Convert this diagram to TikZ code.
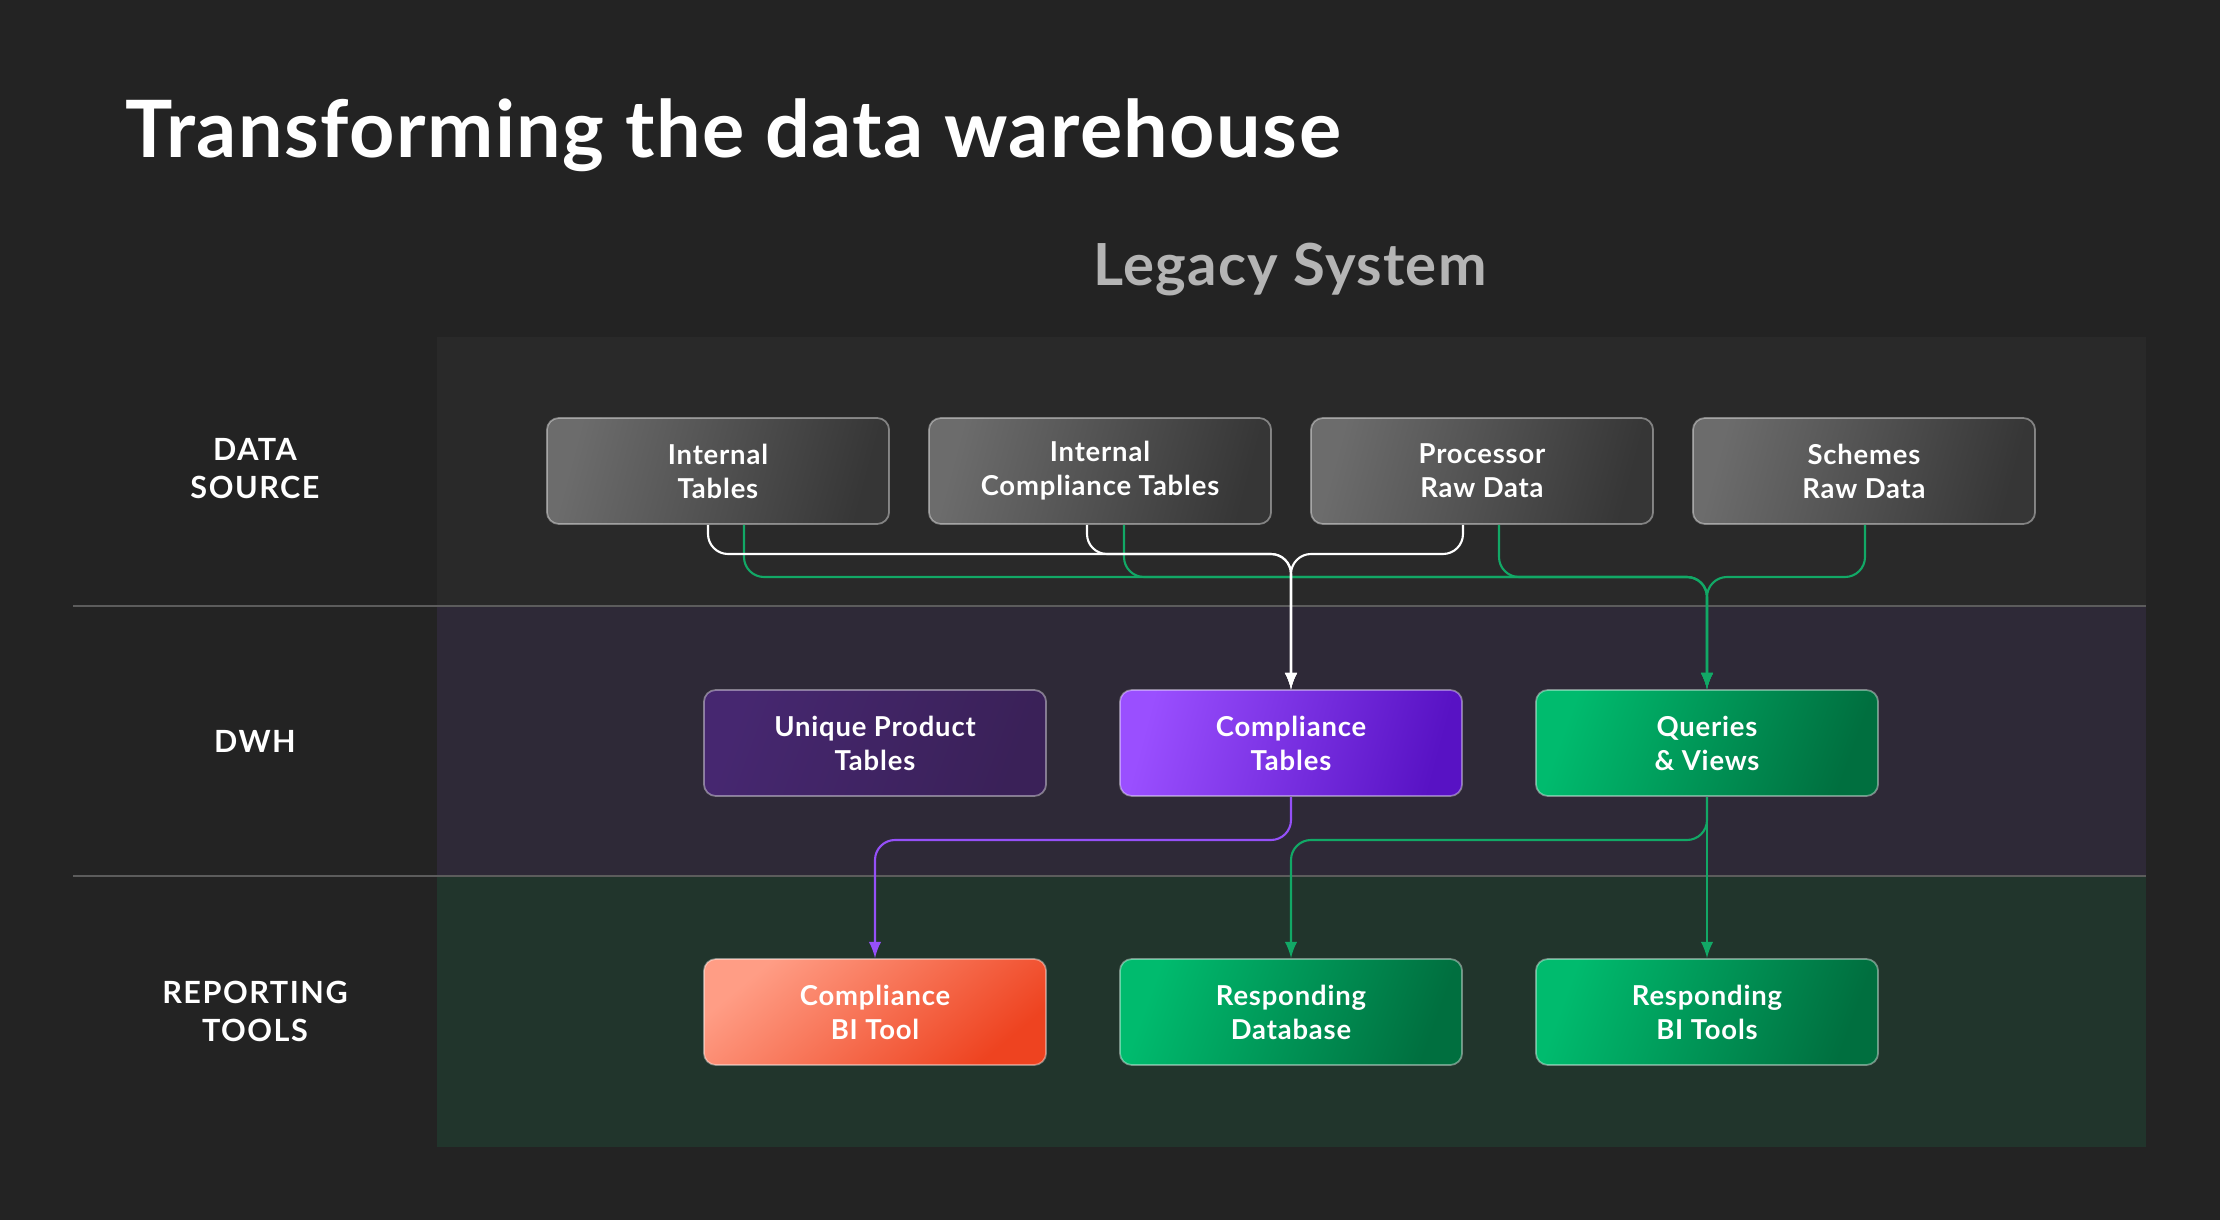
\documentclass[tikz,border=0pt]{standalone}
\usepackage{fontspec}
\setmainfont{Lato}
\newfontfamily\rowfont[LetterSpace=5]{Lato}
\newfontfamily\boxfont[LetterSpace=3]{Lato}
\newfontfamily\titlefont[LetterSpace=1.8]{Lato}
\newfontfamily\headfont[LetterSpace=2.2]{Lato}
\usetikzlibrary{shapes}
\usetikzlibrary{positioning}
\usetikzlibrary{calc}
\usepackage{xcolor}

\definecolor{bgdark}{HTML}{232323}
\definecolor{bandsrc}{HTML}{292929}
\definecolor{banddwh}{HTML}{2E2937}
\definecolor{bandrep}{HTML}{21352C}
\definecolor{divline}{HTML}{5C5C5C}
\definecolor{legacygray}{HTML}{B4B4B4}
\definecolor{wiregreen}{HTML}{12A866}
\definecolor{wirepurple}{HTML}{9550F8}
\definecolor{srcleft}{HTML}{6C6C6C}
\definecolor{srcright}{HTML}{363636}

\tikzset{
  tablebox/.style={
    rounded corners=0.12cm, minimum width=3.42cm, minimum height=1.06cm,
    draw=white, draw opacity=0.4, line width=0.5pt, align=center, text=white,
    font=\boxfont\bfseries\fontsize{7.8}{9.7}\selectfont,
  },
  srcbox/.style={left color=srcleft, right color=srcright, shading angle=75},
  uniqbox/.style={left color={rgb,255:red,70;green,39;blue,112}, right color={rgb,255:red,58;green,33;blue,88}, shading angle=70},
  compbox/.style={left color={rgb,255:red,154;green,79;blue,255}, right color={rgb,255:red,88;green,18;blue,196}, shading angle=75},
  greenbox/.style={left color={rgb,255:red,0;green,187;blue,110}, right color={rgb,255:red,0;green,111;blue,63}, shading angle=70},
  orangebox/.style={left color={rgb,255:red,255;green,157;blue,133}, right color={rgb,255:red,238;green,67;blue,32}, shading angle=40},
  rowlabel/.style={text=white, align=center, font=\rowfont\bfseries\fontsize{8.7}{10.8}\selectfont},
  wire/.style={line width=0.6pt, rounded corners=0.2cm, ->, >=latex},
}

\begin{document}
\begin{tikzpicture}[x=0.01cm, y=0.01cm]

  \fill[bgdark] (0,0) rectangle (2220,1220);
  \useasboundingbox (0,0) rectangle (2220,1220);

  % bands
  \fill[bandsrc] (437,614) rectangle (2146,883);
  \fill[banddwh] (437,344) rectangle (2146,614);
  \fill[bandrep] (437,73) rectangle (2146,344);
  \draw[divline, line width=0.5pt] (73,614) -- (2146,614);
  \draw[divline, line width=0.5pt] (73,344) -- (2146,344);

  \node[anchor=base west, inner sep=0pt, text=white, font=\titlefont\bfseries\fontsize{22.5}{27}\selectfont] (title) at (125,1062) {Transforming the data warehouse};
  \node[anchor=base, text=legacygray, font=\headfont\bfseries\fontsize{16.5}{20}\selectfont] (legacy) at (1290,934) {Legacy System};

  \node[rowlabel] (lsrc) at (255,751) {DATA\\SOURCE};
  \node[rowlabel] (ldwh) at (255,479) {DWH};
  \node[rowlabel] (lrep) at (255,209) {REPORTING\\TOOLS};

  \foreach \n/\x/\t in {it/718/{Internal\\Tables}, ict/1100/{Internal\\Compliance Tables}, prd/1482/{Processor\\Raw Data}, srd/1864/{Schemes\\Raw Data}}
    \node[tablebox, srcbox] (\n) at (\x,749) {\t};

  \node[tablebox, uniqbox] (upt) at (875,477) {Unique Product\\Tables};
  \node[tablebox, compbox] (ctb) at (1291,477) {Compliance\\Tables};
  \node[tablebox, greenbox] (qv) at (1707,477) {Queries\\\& Views};

  \node[tablebox, orangebox] (cbi) at (875,208) {Compliance\\BI Tool};
  \node[tablebox, greenbox] (rdb) at (1291,208) {Responding\\Database};
  \node[tablebox, greenbox] (rbi) at (1707,208) {Responding\\BI Tools};

  \coordinate (gj) at (1707,643);
  \coordinate (wj) at (1291,666);
  \coordinate (pj) at (875,380);
  \coordinate (qj) at (1291,380);

  \draw[wire, wiregreen] ($(it.south)+(26,0)$) |- (gj) -- (qv.north);
  \draw[wire, wiregreen] ($(ict.south)+(24,0)$) |- (gj) -- (qv.north);
  \draw[wire, wiregreen] ($(prd.south)+(17,0)$) |- (gj) -- (qv.north);
  \draw[wire, wiregreen] ($(srd.south)+(1,0)$) |- (gj) -- (qv.north);

  \draw[wire, white] ($(it.south)+(-10,0)$) |- (wj) -- (ctb.north);
  \draw[wire, white] ($(ict.south)+(-13,0)$) |- (wj) -- (ctb.north);
  \draw[wire, white] ($(prd.south)+(-19,0)$) |- (wj) -- (ctb.north);

  \draw[wire, wirepurple] (ctb.south) |- (pj) -- (cbi.north);
  \draw[wire, wiregreen] (qv.south) |- (qj) -- (rdb.north);
  \draw[wire, wiregreen] (qv.south) -- (rbi.north);

\end{tikzpicture}
\end{document}
